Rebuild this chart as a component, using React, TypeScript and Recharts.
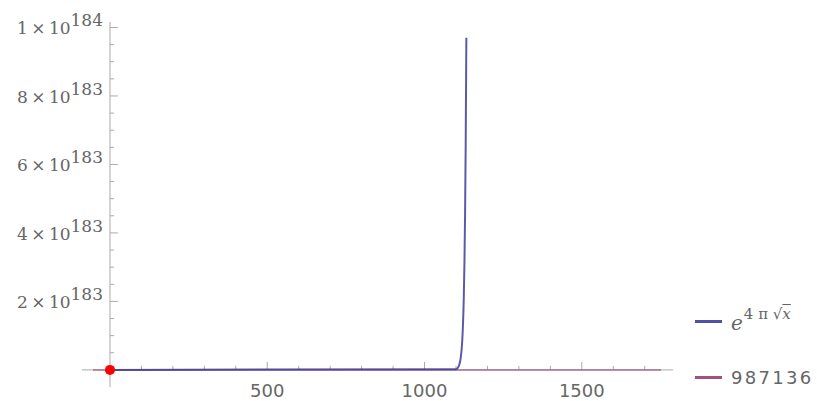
import React from 'react';
import { ComposedChart, Line, XAxis, YAxis, ReferenceLine, ReferenceDot } from 'recharts';

// values are in units of 10^183
const UNIT = 1e183;

const expX = [0, 1100, 1105, 1110, 1115, 1120, 1122, 1125, 1127, 1129, 1131, 1133];
const expY = [0, 0.021, 0.053, 0.135, 0.34, 0.86, 1.25, 2.18, 3.17, 4.6, 6.68, 9.7];

const constX = [-54, 1752];
const constValue = 987136;

const markedPoint = [{ x: 0, y: 0 }];

const xMajorTicks = [500, 1000, 1500];
const xMinorTicks = [100, 200, 300, 400, 600, 700, 800, 900, 1100, 1200, 1300, 1400, 1600, 1700];
const yMajorTicks = [0, 2, 4, 6, 8, 10];
const yMinorTicks = [0.5, 1, 1.5, 2.5, 3, 3.5, 4.5, 5, 5.5, 6.5, 7, 7.5, 8.5, 9, 9.5];
const yTickMantissas = ['', '2', '4', '6', '8', '1'];
const yTickExponents = ['', '183', '183', '183', '183', '184'];

const seriesColors = ['#3F3D99', '#993D71'];
const legendLabels = ['e^{4π√x}', '987136'];

const expData = expX.map((x, i) => ({ x, y: expY[i] }));
const constData = constX.map((x) => ({ x, y: constValue / UNIT }));

const labelColor = '#666';
const axisColor = '#aaa';

function XTick({ x, y, payload }: any) {
    return (
        <text x={x} y={y} dy={10} textAnchor="middle" fontFamily="DejaVu Sans" fontSize={18} fill={labelColor}>
            {payload.value}
        </text>
    );
}

function YTick({ x, y, payload }: any) {
    const i = yMajorTicks.indexOf(payload.value);
    if (!yTickMantissas[i]) return null;
    return (
        <text x={x + 21} y={y} dy={7} textAnchor="end" fontFamily="DejaVu Serif" fontSize={17} fill={labelColor}>
            {yTickMantissas[i]}
            <tspan>{'\u2009×\u200910'}</tspan>
            <tspan dy={-8}>{yTickExponents[i]}</tspan>
        </text>
    );
}

function LegendLabel({ index }: { index: number }) {
    if (index === 0) {
        return (
            <span style={{ fontFamily: 'DejaVu Serif', color: labelColor, fontSize: 20 }}>
                <i>e</i>
                <sup style={{ fontSize: 15, position: 'relative', top: -3, marginLeft: 1 }}>
                    4 π √<i style={{ textDecoration: 'overline' }}>x</i>
                </sup>
            </span>
        );
    }
    return (
        <span style={{ fontFamily: 'DejaVu Sans', color: labelColor, fontSize: 18, letterSpacing: 2.3 }}>
            {legendLabels[1]}
        </span>
    );
}

export default function App() {
    const xTickLen = [0.23, 0.12]; // major, minor (y units)
    const yTickLen = [25, 13]; // major, minor (x units)

    return (
        <div style={{ position: 'absolute', left: 0, top: 0, width: 817, height: 401, background: '#fff' }}>
            <ComposedChart width={817} height={401} margin={{ top: 22, right: 144, bottom: 0, left: 22 }}>
                <XAxis
                    type="number"
                    dataKey="x"
                    domain={[-89, 1790]}
                    ticks={xMajorTicks}
                    tick={<XTick />}
                    tickSize={0}
                    tickMargin={0}
                    axisLine={false}
                    tickLine={false}
                    height={14}
                    allowDataOverflow
                />
                <YAxis
                    type="number"
                    dataKey="y"
                    domain={[-0.5, 10.16]}
                    ticks={yMajorTicks}
                    tick={<YTick />}
                    tickSize={0}
                    tickMargin={0}
                    axisLine={false}
                    tickLine={false}
                    width={60}
                    allowDataOverflow
                />
                <ReferenceLine y={0} stroke={axisColor} strokeWidth={1} />
                <ReferenceLine x={0} stroke={axisColor} strokeWidth={1} />
                {xMajorTicks.map((t) => (
                    <ReferenceLine key={'xM' + t} segment={[{ x: t, y: 0 }, { x: t, y: xTickLen[0] }]} stroke={axisColor} />
                ))}
                {xMinorTicks.map((t) => (
                    <ReferenceLine key={'xm' + t} segment={[{ x: t, y: 0 }, { x: t, y: xTickLen[1] }]} stroke={axisColor} />
                ))}
                {yMajorTicks.map((t) => (
                    <ReferenceLine key={'yM' + t} segment={[{ x: 0, y: t }, { x: yTickLen[0], y: t }]} stroke={axisColor} />
                ))}
                {yMinorTicks.map((t) => (
                    <ReferenceLine key={'ym' + t} segment={[{ x: 0, y: t }, { x: yTickLen[1], y: t }]} stroke={axisColor} />
                ))}
                <Line
                    data={constData}
                    dataKey="y"
                    type="linear"
                    stroke={seriesColors[1]}
                    strokeOpacity={0.5}
                    strokeWidth={2}
                    dot={false}
                    isAnimationActive={false}
                />
                <Line
                    data={expData}
                    dataKey="y"
                    type="monotone"
                    stroke={seriesColors[0]}
                    strokeOpacity={0.85}
                    strokeWidth={2}
                    dot={false}
                    isAnimationActive={false}
                />
                {markedPoint.map((p, i) => (
                    <ReferenceDot key={i} x={p.x} y={p.y} r={5} fill="#ff0000" stroke="none" />
                ))}
            </ComposedChart>
            {seriesColors.map((c, i) => (
                <div
                    key={i}
                    style={{
                        position: 'absolute',
                        left: 695,
                        top: i === 0 ? 306 : 362,
                        height: 30,
                        display: 'flex',
                        alignItems: 'center',
                        whiteSpace: 'nowrap',
                    }}
                >
                    <div style={{ width: 27, height: 3, background: c, opacity: 0.9, marginRight: 9 }} />
                    <LegendLabel index={i} />
                </div>
            ))}
        </div>
    );
}
